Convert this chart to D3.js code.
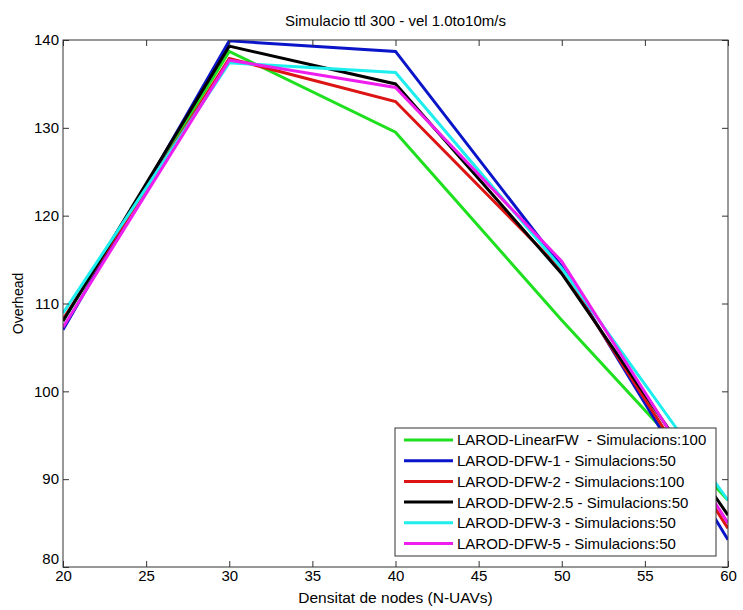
<!DOCTYPE html>
<html>
<head>
<meta charset="utf-8">
<script src="https://cdn.jsdelivr.net/npm/d3@7"></script>
<style>
  body { margin: 0; background: #fff; }
  svg { font-family: "Liberation Sans", Arial, sans-serif; }
</style>
</head>
<body>
<div id="chart"></div>
<script>
// Data
const xValues = [20, 30, 40, 50, 60];
const seriesNames = [
  'LAROD-LinearFW  - Simulacions:100',
  'LAROD-DFW-1 - Simulacions:50',
  'LAROD-DFW-2 - Simulacions:100',
  'LAROD-DFW-2.5 - Simulacions:50',
  'LAROD-DFW-3 - Simulacions:50',
  'LAROD-DFW-5 - Simulacions:50',
];
const seriesColors = ['#1ee01e', '#0a14c8', '#dc1414', '#000000', '#1eeeee', '#ee1eee'];
const linearFW = [108.0, 138.7, 129.5, 108.1, 87.6];
const dfw1 = [107.0, 139.9, 138.7, 114.2, 83.1];
const dfw2 = [108.2, 137.9, 133.0, 113.8, 84.4];
const dfw25 = [108.0, 139.3, 135.0, 113.4, 85.9];
const dfw3 = [108.9, 137.4, 136.3, 114.0, 87.6];
const dfw5 = [107.3, 137.7, 134.6, 114.8, 85.0];
const xTicks = [20, 25, 30, 35, 40, 45, 50, 55, 60];
const yTicks = [80, 90, 100, 110, 120, 130, 140];

const allSeries = [linearFW, dfw1, dfw2, dfw25, dfw3, dfw5];

const width = 743;
const height = 610;
const margin = { top: 40, right: 15, bottom: 43, left: 63 };
const innerW = width - margin.left - margin.right;
const innerH = height - margin.top - margin.bottom;

const svg = d3.select('#chart').append('svg')
  .attr('width', width)
  .attr('height', height);

const x = d3.scaleLinear().domain([20, 60]).range([0, innerW]);
const y = d3.scaleLinear().domain([80, 140]).range([innerH, 0]);

const g = svg.append('g')
  .attr('transform', `translate(${margin.left},${margin.top})`);

// clip lines to the axes box
svg.append('defs').append('clipPath')
  .attr('id', 'plot-clip')
  .append('rect')
  .attr('width', innerW)
  .attr('height', innerH);

const line = d3.line()
  .x((d, i) => x(xValues[i]))
  .y(d => y(d));

g.append('g')
  .attr('clip-path', 'url(#plot-clip)')
  .selectAll('path')
  .data(allSeries)
  .join('path')
  .attr('fill', 'none')
  .attr('stroke', (d, i) => seriesColors[i])
  .attr('stroke-width', 3)
  .attr('stroke-linejoin', 'miter')
  .attr('d', line);

// Axes, MATLAB style: ticks inward on all four sides
const axisColor = '#333';
const tickLen = 6;

const styleAxis = sel => {
  sel.select('.domain').remove();
  sel.selectAll('line').attr('stroke', axisColor);
  sel.selectAll('text').attr('fill', '#000').style('font-size', '15px');
};

g.append('g')
  .attr('transform', `translate(0,${innerH})`)
  .call(d3.axisBottom(x).tickValues(xTicks).tickSizeInner(-tickLen).tickPadding(3))
  .call(styleAxis);

g.append('g')
  .call(d3.axisTop(x).tickValues(xTicks).tickSizeInner(-tickLen).tickFormat(''))
  .call(styleAxis);

const yAxisG = g.append('g')
  .call(d3.axisLeft(y).tickValues(yTicks).tickSizeInner(-tickLen).tickPadding(4))
  .call(styleAxis);
// MATLAB lifts the lowest label a bit
yAxisG.selectAll('.tick')
  .filter(d => d === 80)
  .select('text')
  .attr('dy', '-0.25em');

g.append('g')
  .attr('transform', `translate(${innerW},0)`)
  .call(d3.axisRight(y).tickValues(yTicks).tickSizeInner(-tickLen).tickFormat(''))
  .call(styleAxis);

g.append('rect')
  .attr('width', innerW)
  .attr('height', innerH)
  .attr('fill', 'none')
  .attr('stroke', axisColor)
  .attr('stroke-width', 1);

// Titles
svg.append('text')
  .attr('x', margin.left + innerW / 2)
  .attr('y', 26)
  .attr('text-anchor', 'middle')
  .style('font-size', '15px')
  .text('Simulacio ttl 300 - vel 1.0to10m/s');

svg.append('text')
  .attr('x', margin.left + innerW / 2)
  .attr('y', 603)
  .attr('text-anchor', 'middle')
  .style('font-size', '15.5px')
  .text('Densitat de nodes (N-UAVs)');

svg.append('text')
  .attr('transform', `translate(23,${margin.top + innerH / 2}) rotate(-90)`)
  .attr('text-anchor', 'middle')
  .style('font-size', '14px')
  .text('Overhead');

// Legend
const legend = svg.append('g').attr('transform', 'translate(395,428)');
legend.append('rect')
  .attr('width', 321)
  .attr('height', 128)
  .attr('fill', '#fff')
  .attr('stroke', axisColor);

const item = legend.selectAll('g.item')
  .data(seriesNames)
  .join('g')
  .attr('class', 'item')
  .attr('transform', (d, i) => `translate(0,${12 + i * 20.7})`);

item.append('line')
  .attr('x1', 9)
  .attr('x2', 58)
  .attr('stroke', (d, i) => seriesColors[i])
  .attr('stroke-width', 3);

item.append('text')
  .attr('x', 62)
  .attr('dy', '0.36em')
  .style('font-size', '15px')
  .style('white-space', 'pre')
  .attr('xml:space', 'preserve')
  .text(d => d);
</script>
</body>
</html>
